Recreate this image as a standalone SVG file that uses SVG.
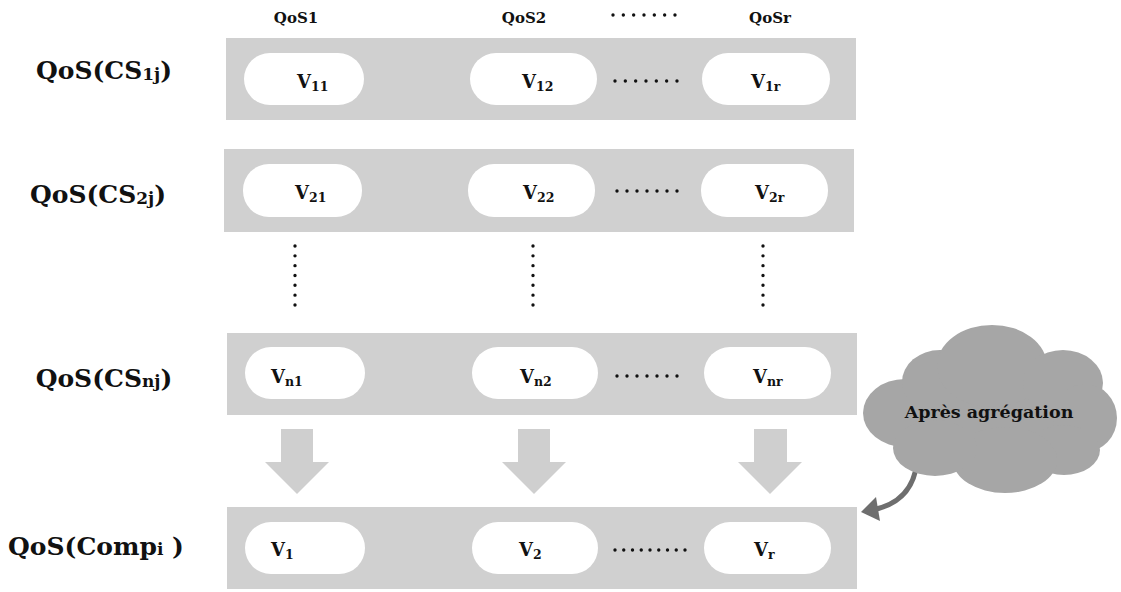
<svg xmlns="http://www.w3.org/2000/svg" width="1121" height="592" viewBox="0 0 1121 592">
  <style>
    .band { fill: #d0d0d0; }
    .pill { fill: #ffffff; }
    .big { font-family: "DejaVu Serif", "Liberation Serif", serif; font-weight: bold; font-size: 25px; fill: #111; }
    .head { font-family: "DejaVu Serif", "Liberation Serif", serif; font-weight: bold; font-size: 15px; fill: #111; }
    .val { font-family: "DejaVu Serif", "Liberation Serif", serif; font-weight: bold; font-size: 18px; fill: #111; }
    .sub { font-size: 12.5px; }
    .bsub { font-size: 17px; }
    .dots { stroke: #111; stroke-width: 3.4; stroke-linecap: round; fill: none; }
    .down { fill: #cfcfcf; }
    .cloud { fill: #a6a6a6; }
    .cloudtxt { font-family: "DejaVu Serif", "Liberation Serif", serif; font-size: 17.5px; font-weight: bold; fill: #111; }
  </style>

  <!-- column headers -->
  <g id="headers">
    <text class="head" x="296" y="23" text-anchor="middle">QoS1</text>
    <text class="head" x="524" y="23" text-anchor="middle">QoS2</text>
    <line class="dots" x1="613" y1="15" x2="675.5" y2="15" stroke-dasharray="0 10.33"/>
    <text class="head" x="770" y="23" text-anchor="middle">QoSr</text>
  </g>

  <!-- row 1 -->
  <g id="row-cs1">
    <text class="big" x="104" y="79" text-anchor="middle">QoS(CS<tspan class="bsub" dy="1">1j</tspan><tspan dy="-1">)</tspan></text>
    <rect class="band" x="226" y="38" width="630" height="82"/>
    <rect class="pill" x="244" y="53" width="120" height="52" rx="26"/>
    <text class="val" x="297" y="88">V<tspan class="sub" dy="3">11</tspan></text>
    <rect class="pill" x="470" y="53" width="127" height="52" rx="26"/>
    <text class="val" x="522" y="88">V<tspan class="sub" dy="3">12</tspan></text>
    <line class="dots" x1="615" y1="81" x2="677.5" y2="81" stroke-dasharray="0 10.33"/>
    <rect class="pill" x="702" y="53" width="128" height="52" rx="26"/>
    <text class="val" x="751" y="88">V<tspan class="sub" dy="3">1r</tspan></text>
  </g>

  <!-- row 2 -->
  <g id="row-cs2">
    <text class="big" x="98" y="203" text-anchor="middle">QoS(CS<tspan class="bsub" dy="1">2j</tspan><tspan dy="-1">)</tspan></text>
    <rect class="band" x="224" y="149" width="630" height="83"/>
    <rect class="pill" x="243" y="164" width="119" height="53" rx="26"/>
    <text class="val" x="295" y="199">V<tspan class="sub" dy="3">21</tspan></text>
    <rect class="pill" x="468" y="164" width="127" height="53" rx="26"/>
    <text class="val" x="523" y="199">V<tspan class="sub" dy="3">22</tspan></text>
    <line class="dots" x1="617" y1="191" x2="677.5" y2="191" stroke-dasharray="0 10"/>
    <rect class="pill" x="701" y="164" width="127" height="53" rx="26"/>
    <text class="val" x="755" y="199">V<tspan class="sub" dy="3">2r</tspan></text>
  </g>

  <!-- vertical ellipsis between rows -->
  <g id="vdots">
    <line class="dots" x1="295" y1="246" x2="295" y2="305.5" stroke-dasharray="0 9.83"/>
    <line class="dots" x1="533" y1="246" x2="533" y2="305.5" stroke-dasharray="0 9.83"/>
    <line class="dots" x1="763" y1="246" x2="763" y2="305.5" stroke-dasharray="0 9.83"/>
  </g>

  <!-- row n -->
  <g id="row-csn">
    <text class="big" x="104" y="387" text-anchor="middle">QoS(CS<tspan class="bsub">nj</tspan>)</text>
    <rect class="band" x="227" y="333" width="630" height="82"/>
    <rect class="pill" x="245" y="347" width="120" height="52" rx="26"/>
    <text class="val" x="271" y="383">V<tspan class="sub" dy="3">n1</tspan></text>
    <rect class="pill" x="472" y="347" width="126" height="52" rx="26"/>
    <text class="val" x="520" y="383">V<tspan class="sub" dy="3">n2</tspan></text>
    <line class="dots" x1="617" y1="376" x2="677.5" y2="376" stroke-dasharray="0 10"/>
    <rect class="pill" x="704" y="347" width="127" height="52" rx="26"/>
    <text class="val" x="753" y="383">V<tspan class="sub" dy="3">nr</tspan></text>
  </g>

  <!-- downward arrows and the aggregation pointer -->
  <g id="connectors">
    <polygon class="down" points="281,429 313,429 313,462 329,462 297,494 265,462 281,462"/>
    <polygon class="down" points="518,429 550,429 550,462 566,462 534,494 502,462 518,462"/>
    <polygon class="down" points="754,429 787,429 787,462 802,462 770,494 738,462 754,462"/>
    <path d="M917,462 C914,490 898,505 872,510" fill="none" stroke="#6e6e6e" stroke-width="5" stroke-linecap="round"/>
    <polygon points="861,512 876,497 880,521" fill="#6e6e6e"/>
  </g>

  <!-- composite row -->
  <g id="row-comp">
    <text class="big" x="96" y="555" text-anchor="middle">QoS(Comp<tspan class="bsub">i</tspan> )</text>
    <rect class="band" x="227" y="507" width="630" height="82"/>
    <rect class="pill" x="245" y="522" width="120" height="52" rx="26"/>
    <text class="val" x="271" y="556">V<tspan class="sub" dy="3">1</tspan></text>
    <rect class="pill" x="472" y="522" width="126" height="52" rx="26"/>
    <text class="val" x="519" y="556">V<tspan class="sub" dy="3">2</tspan></text>
    <line class="dots" x1="615" y1="550" x2="685.5" y2="550" stroke-dasharray="0 8.75"/>
    <rect class="pill" x="704" y="522" width="127" height="52" rx="26"/>
    <text class="val" x="754" y="556">V<tspan class="sub" dy="3">r</tspan></text>
  </g>

  <!-- aggregation cloud -->
  <g id="cloud">
    <g class="cloud">
      <ellipse cx="990" cy="415" rx="95" ry="52"/>
      <ellipse cx="905" cy="413" rx="42" ry="34"/>
      <ellipse cx="940" cy="382" rx="38" ry="32"/>
      <ellipse cx="992" cy="366" rx="55" ry="41"/>
      <ellipse cx="1063" cy="383" rx="40" ry="33"/>
      <ellipse cx="1085" cy="418" rx="32" ry="34"/>
      <ellipse cx="1064" cy="450" rx="36" ry="25"/>
      <ellipse cx="1005" cy="460" rx="52" ry="33"/>
      <ellipse cx="935" cy="448" rx="42" ry="28"/>
    </g>
    <text class="cloudtxt" x="989" y="418" text-anchor="middle">Après agrégation</text>
  </g>
</svg>
